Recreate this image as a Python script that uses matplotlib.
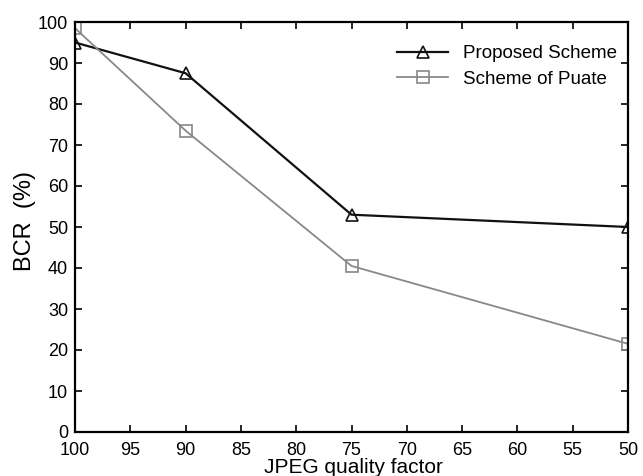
import matplotlib
matplotlib.use("Agg")
import matplotlib.pyplot as plt

quality = [100, 90, 75, 50]
proposed = [95.0, 87.5, 53.0, 50.0]
puate = [98.5, 73.5, 40.5, 21.5]
xticks = [100, 95, 90, 85, 80, 75, 70, 65, 60, 55, 50]
yticks = [0, 10, 20, 30, 40, 50, 60, 70, 80, 90, 100]

plt.rcParams['font.family'] = ['Liberation Sans', 'DejaVu Sans']

W, H = 643, 476
fig = plt.figure(figsize=(W / 100, H / 100), dpi=100)
ax = fig.add_axes([75 / W, 1 - 432 / H, (628 - 75) / W, (432 - 22) / H])

ax.plot(quality, proposed, color='#111111', lw=1.6, marker='^', ms=9,
        mfc='none', mec='#111111', mew=1.2, label='Proposed Scheme')
ax.plot(quality, puate, color='#888888', lw=1.3, marker='s', ms=8,
        mfc='none', mec='#888888', mew=1.2, label='Scheme of Puate')

ax.set_xlim(100, 50)
ax.set_ylim(0, 100)
ax.set_xticks(xticks)
ax.set_yticks(yticks)
ax.tick_params(direction='in', top=True, right=True, length=5, width=1.2,
               labelsize=13)
ax.tick_params(axis='x', pad=7)
ax.tick_params(axis='y', pad=5)
for s in ax.spines.values():
    s.set_linewidth(1.6)

ax.set_xlabel('JPEG quality factor', fontsize=15)
ax.xaxis.set_label_coords((353 - 75) / 553, (432 - 458) / 410)
ax.set_ylabel('BCR  (%)', fontsize=17)
ax.yaxis.set_label_coords((36 - 75) / 553, (432 - 221) / 410)

ax.legend(loc='upper right', frameon=False, fontsize=13.5, handlelength=2.7,
          handletextpad=0.8, borderpad=0, borderaxespad=0,
          labelspacing=0.45, bbox_to_anchor=(617 / W, 1 - 45 / H),
          bbox_transform=fig.transFigure)

fig.savefig('out.png', dpi=100)
